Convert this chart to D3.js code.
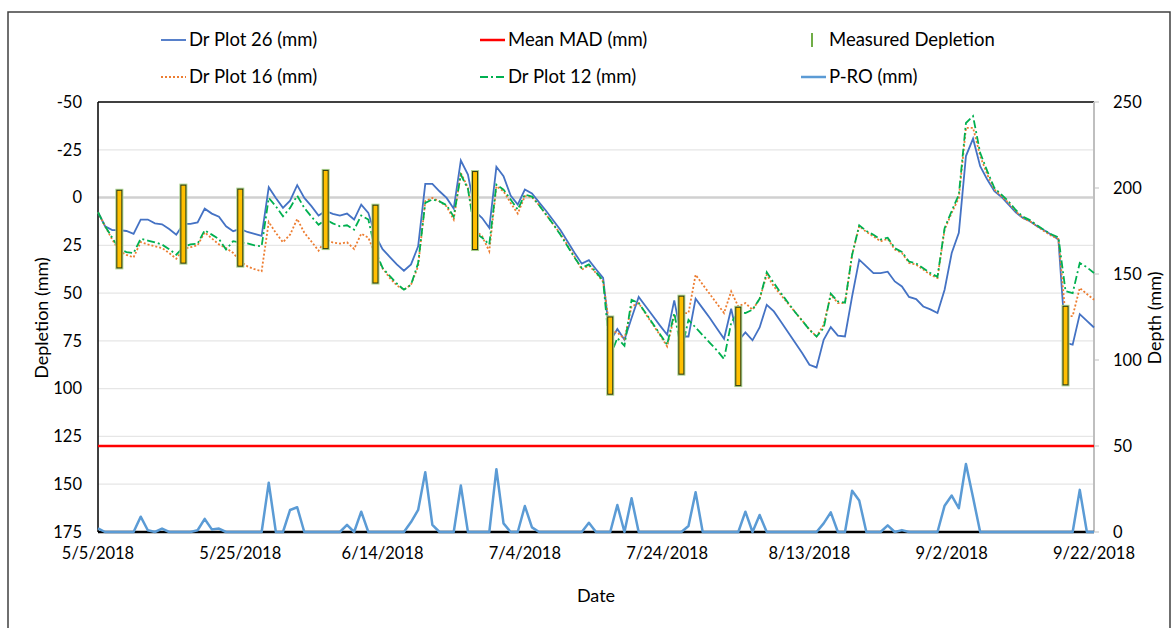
<!DOCTYPE html>
<html>
<head>
<meta charset="utf-8">
<script src="https://cdn.jsdelivr.net/npm/d3@7"></script>
<style>
  body { margin: 0; background: #fff; }
  svg { font-family: Lato, "Open Sans", sans-serif; }
</style>
</head>
<body>
<svg id="chart" width="1176" height="628"></svg>
<script>
// daily dates 5/5/2018 .. 9/22/2018
var dates = d3.timeDay.range(new Date(2018, 4, 5), new Date(2018, 8, 23));

var plot26 = [7.7, 15, 17, 17, 17.5, 19, 11.5, 11.5, 13.5, 14,
  16.5, 19.4, 13.8, 13.8, 13, 5.8, 8.4, 10, 15, 17.6,
  16.4, 18, 19, 20, -5.4, 0.2, 5.4, 1.6, -6.5, 0.2,
  4.5, 9.4, 7, 8.5, 9.4, 8.4, 11.5, 3.7, 8, 20,
  27, 31, 35, 38.3, 35, 25.5, -7.2, -7.2, -3.3, 0.2,
  5.8, -19.4, -12, 7.2, 10.7, 15.9, -16.1, -11.2, -1, 3.7,
  -4.2, -2.1, 2.5, 7, 12, 17, 23, 29, 34.6, 32.8,
  37.5, 42, 75, 68.8, 74.4, 63, 52, 57, 62, 67,
  71.8, 53.8, 72.7, 72.7, 52.9, 58, 63, 68.5, 73.9, 58.2,
  75, 70.6, 74.7, 68, 56.1, 59.6, 65, 70.5, 76, 81.5,
  87.5, 88.9, 74.4, 67.8, 72.2, 72.7, 51.7, 32.5, 36, 39.5,
  39.5, 38.8, 43.9, 46.5, 52, 53.1, 57, 58.5, 60.4, 48.2,
  29, 18.5, -21.7, -30.8, -16.4, -9.4, -3.3, -0.3, 3.7, 7.7,
  10.7, 12.4, 15, 17.1, 19.4, 22, 76, 77, 61, 64.5,
  68];

var plot16 = [7.7, 15, 22, 28, 30, 31.3, 23.3, 24.5, 25.5, 26.4,
  29, 32, 26.9, 26, 25, 18.2, 21.4, 24.5, 26.4, 29,
  33.4, 36, 37.5, 38.5, 12.8, 18.5, 23.4, 19.4, 11.2, 18.4,
  23, 27.8, 22, 23.5, 24.1, 23.4, 26.9, 18.9, 21, 30,
  37, 42, 46, 48.2, 45.6, 35.9, 1.9, 0.2, 2, 4.6,
  11.5, -12.9, -5.1, 16.8, 20.3, 28.1, -5.9, -3.3, 2.8, 8.4,
  -0.7, -0.3, 4, 9, 14, 19, 25, 31, 37.7, 35.5,
  39.5, 44, 70, 70.6, 74, 57, 55.2, 61, 66.5, 72,
  77.9, 62.2, 60.5, 60.4, 40.4, 45.5, 50.5, 55.5, 60.4, 49.1,
  57, 55.2, 58.7, 53.1, 40.4, 46.5, 51, 55.5, 60, 64.5,
  69, 72.7, 66.6, 50.8, 55.2, 55.2, 30, 15, 18, 20.3,
  22.9, 21.6, 27.2, 29, 34.2, 35.1, 37.7, 40.4, 42.1, 16.8,
  8, 0.2, -36.5, -36.5, -21.7, -12, -4.2, -0.7, 2.8, 7.2,
  10.7, 12.4, 15, 17.6, 19.9, 21.7, 62, 62, 47.3, 50.5,
  53.5];

var plot12 = [7.7, 15, 21, 27, 28.5, 29, 21.6, 22.5, 23.4, 24.6,
  27, 29.9, 25.9, 24.5, 24.1, 17.1, 19.4, 21.7, 27.2, 22.8,
  23.5, 24, 25, 25.5, 0.2, 4.6, 9.8, 5.4, -1, 5.4,
  10, 14.2, 11.5, 13.5, 15, 14.5, 16.8, 9.4, 11.5, 28,
  36.8, 41, 45, 48.2, 45.6, 34.3, 2.8, 1, 2, 4,
  10, -12, -4.5, 18.5, 21, 24.6, -6.8, -4.2, 1, 6.3,
  -1.6, -0.5, 4, 9, 14, 19.5, 25.5, 31.5, 36.9, 35,
  39, 43.5, 83.1, 73.5, 77.6, 53.5, 55.2, 60.5, 66, 71.5,
  77, 60.4, 80, 64, 68, 72, 76, 80, 84.5, 65.5,
  60, 60.4, 58.7, 53, 39.1, 44.7, 50, 55, 60, 64.5,
  69.2, 72.7, 68.3, 50.3, 54.3, 55, 30, 14.5, 17.5, 19.5,
  22, 21, 26.5, 28.5, 33.5, 34.5, 37, 39.5, 41.5, 16,
  7, -1.5, -39, -42.6, -23.4, -13.8, -5, -1.5, 2, 6.5,
  10, 11.8, 14.5, 17, 19.2, 20.8, 49, 50, 34.2, 36.5,
  39.5];

// precipitation minus runoff, right axis
var pro = [2.1, 0, 0, 0, 0, 0, 8.9, 1, 0, 2,
  0, 0, 0, 0, 1, 7.6, 1.5, 2, 0, 0,
  0, 0, 0, 0, 28.7, 0, 0, 12.8, 14.4, 0,
  0, 0, 0, 0, 0, 4.1, 0, 11.8, 0, 0,
  0, 0, 0, 0, 5.8, 12.8, 34.8, 4.1, 0, 0,
  0, 27, 0, 0, 0, 0, 36.5, 5, 0, 0,
  15.1, 2.7, 0, 0, 0, 0, 0, 0, 0, 5.4,
  0, 0, 0, 15.7, 0, 19.6, 0, 0, 0, 0,
  0, 0, 0, 3.5, 23.1, 0, 0, 0, 0, 0,
  0, 11.8, 0, 9.9, 0, 0, 0, 0, 0, 0,
  0, 0, 5, 11.4, 0, 0, 24, 18.3, 0, 0,
  0, 3.9, 0, 1.1, 0, 0, 0, 0, 0, 15.3,
  21.2, 13.8, 39.6, 20, 0, 0, 0, 0, 0, 0,
  0, 0, 0, 0, 0, 0, 0, 0, 24.5, 0,
  0];

var meanMAD = 130;

// measured depletion: day index, top, bottom
var measDay = [3, 12, 20, 32, 39, 53, 72, 82, 90, 136];
var measTop = [-3.8, -6.5, -4.4, -14.2, 4, -13.6, 62.5, 51.6, 57.4, 56.9];
var measBottom = [36.8, 34.3, 35.9, 26.7, 44.7, 27.2, 102.9, 92.4, 98.4, 98];

var leftTicks = [-50, -25, 0, 25, 50, 75, 100, 125, 150, 175];
var rightTicks = [0, 50, 100, 150, 200, 250];

var svg = d3.select("#chart");
var pL = 98, pR = 1094, pT = 102, pB = 532;

var x = d3.scaleTime().domain([dates[0], dates[dates.length - 1]]).range([pL, pR]);
var yL = d3.scaleLinear().domain([-50, 175]).range([pT, pB]);
var yR = d3.scaleLinear().domain([0, 250]).range([pB, pT]);

// outer frame
svg.append("path")
  .attr("d", "M8,640 L8,12 L1170,12 L1170,640")
  .attr("fill", "none").attr("stroke", "#404040").attr("stroke-width", 1.5);

// gridlines
svg.append("g").selectAll("line").data(leftTicks.filter(function(t) { return t != -50 && t != 175; }))
  .enter().append("line")
  .attr("x1", pL).attr("x2", pR)
  .attr("y1", function(d) { return yL(d); }).attr("y2", function(d) { return yL(d); })
  .attr("stroke", function(d) { return d == 0 ? "#d0d0d0" : "#e6e6e6"; })
  .attr("stroke-width", function(d) { return d == 0 ? 2.5 : 1.2; });

// axes frame lines
svg.append("line").attr("x1", pL).attr("x2", pR).attr("y1", pT).attr("y2", pT)
  .attr("stroke", "#000").attr("stroke-width", 1.5);
svg.append("line").attr("x1", pL).attr("x2", pL).attr("y1", pT).attr("y2", pB)
  .attr("stroke", "#000").attr("stroke-width", 1.5);
svg.append("line").attr("x1", pR).attr("x2", pR).attr("y1", pT).attr("y2", pB)
  .attr("stroke", "#bfbfbf").attr("stroke-width", 2);
svg.append("line").attr("x1", pL).attr("x2", pR).attr("y1", pB).attr("y2", pB)
  .attr("stroke", "#000").attr("stroke-width", 2.5);

// left axis labels
svg.append("g").selectAll("text").data(leftTicks).enter().append("text")
  .attr("x", 82).attr("y", function(d) { return yL(d); })
  .attr("dy", "0.35em").attr("text-anchor", "end")
  .attr("font-size", 16.5).attr("fill", "#000")
  .text(function(d) { return d; });

// right axis ticks and labels
var rg = svg.append("g");
rg.selectAll("line").data(rightTicks).enter().append("line")
  .attr("x1", pR).attr("x2", pR + 5)
  .attr("y1", function(d) { return yR(d); }).attr("y2", function(d) { return yR(d); })
  .attr("stroke", "#bfbfbf").attr("stroke-width", 1);
rg.selectAll("text").data(rightTicks).enter().append("text")
  .attr("x", 1113).attr("y", function(d) { return yR(d); })
  .attr("dy", "0.35em").attr("text-anchor", "start")
  .attr("font-size", 16.5).attr("fill", "#000")
  .text(function(d) { return d; });

// x axis labels
var xTicks = dates.filter(function(d, i) { return i % 20 == 0; });
var fmt = d3.timeFormat("%-m/%-d/%Y");
svg.append("g").selectAll("text").data(xTicks).enter().append("text")
  .attr("x", function(d) { return x(d); }).attr("y", 559)
  .attr("text-anchor", "middle").attr("font-size", 16.5).attr("fill", "#000")
  .text(function(d) { return fmt(d); });

// axis titles
svg.append("text").attr("transform", "translate(48,318) rotate(-90)")
  .attr("text-anchor", "middle").attr("font-size", 18).text("Depletion (mm)");
svg.append("text").attr("transform", "translate(1161,318) rotate(-90)")
  .attr("text-anchor", "middle").attr("font-size", 18).text("Depth (mm)");
svg.append("text").attr("x", 596).attr("y", 602)
  .attr("text-anchor", "middle").attr("font-size", 18).text("Date");

// MAD line
svg.append("line").attr("x1", pL).attr("x2", pR)
  .attr("y1", yL(meanMAD)).attr("y2", yL(meanMAD))
  .attr("stroke", "#ff0000").attr("stroke-width", 2.5);

// P-RO line
var lineR = d3.line().x(function(d, i) { return x(dates[i]); }).y(function(d) { return yR(d); });
svg.append("path").datum(pro).attr("d", lineR)
  .attr("fill", "none").attr("stroke", "#5b9bd5").attr("stroke-width", 2.5)
  .attr("stroke-linejoin", "round");

// depletion lines
var lineL = d3.line().x(function(d, i) { return x(dates[i]); }).y(function(d) { return yL(d); });
svg.append("path").datum(plot26).attr("d", lineL)
  .attr("fill", "none").attr("stroke", "#4472c4").attr("stroke-width", 1.8);
svg.append("path").datum(plot16).attr("d", lineL)
  .attr("fill", "none").attr("stroke", "#ed7d31").attr("stroke-width", 1.8)
  .attr("stroke-dasharray", "2,2");
svg.append("path").datum(plot12).attr("d", lineL)
  .attr("fill", "none").attr("stroke", "#00b050").attr("stroke-width", 1.8)
  .attr("stroke-dasharray", "8,3,2,3");

// measured depletion bars
var mg = svg.append("g").selectAll("g").data(measDay).enter().append("g");
mg.append("rect")
  .attr("x", function(d) { return x(dates[d]) - 4; })
  .attr("y", function(d, i) { return yL(measTop[i]) - 1.5; })
  .attr("width", 8)
  .attr("height", function(d, i) { return yL(measBottom[i]) - yL(measTop[i]) + 3; })
  .attr("fill", "#a9d08e");
mg.append("rect")
  .attr("x", function(d) { return x(dates[d]) - 2.5; })
  .attr("y", function(d, i) { return yL(measTop[i]); })
  .attr("width", 5)
  .attr("height", function(d, i) { return yL(measBottom[i]) - yL(measTop[i]); })
  .attr("fill", "#ffc000").attr("stroke", "#2f3a10").attr("stroke-width", 1);

// legend
var legend = [
  {label: "Dr Plot 26 (mm)", x: 161, y: 40, color: "#4472c4", dash: null, w: 1.8},
  {label: "Mean MAD (mm)", x: 480, y: 40, color: "#ff0000", dash: null, w: 2.5},
  {label: "Dr Plot 16 (mm)", x: 161, y: 77, color: "#ed7d31", dash: "2,2", w: 1.8},
  {label: "Dr Plot 12 (mm)", x: 480, y: 77, color: "#00b050", dash: "8,3,2,3", w: 1.8},
  {label: "P-RO (mm)", x: 801, y: 77, color: "#5b9bd5", dash: null, w: 2.5}
];
var lg = svg.append("g").selectAll("g").data(legend).enter().append("g");
lg.append("line")
  .attr("x1", function(d) { return d.x; }).attr("x2", function(d) { return d.x + 25; })
  .attr("y1", function(d) { return d.y; }).attr("y2", function(d) { return d.y; })
  .attr("stroke", function(d) { return d.color; })
  .attr("stroke-width", function(d) { return d.w; })
  .attr("stroke-dasharray", function(d) { return d.dash; });
lg.append("text")
  .attr("x", function(d) { return d.x + 28; }).attr("y", function(d) { return d.y; })
  .attr("dy", "0.35em").attr("font-size", 18.5).text(function(d) { return d.label; });

svg.append("line").attr("x1", 812).attr("x2", 812).attr("y1", 33).attr("y2", 47)
  .attr("stroke", "#70ad47").attr("stroke-width", 2);
svg.append("text").attr("x", 829).attr("y", 40).attr("dy", "0.35em")
  .attr("font-size", 18.5).text("Measured Depletion");
</script>
</body>
</html>
